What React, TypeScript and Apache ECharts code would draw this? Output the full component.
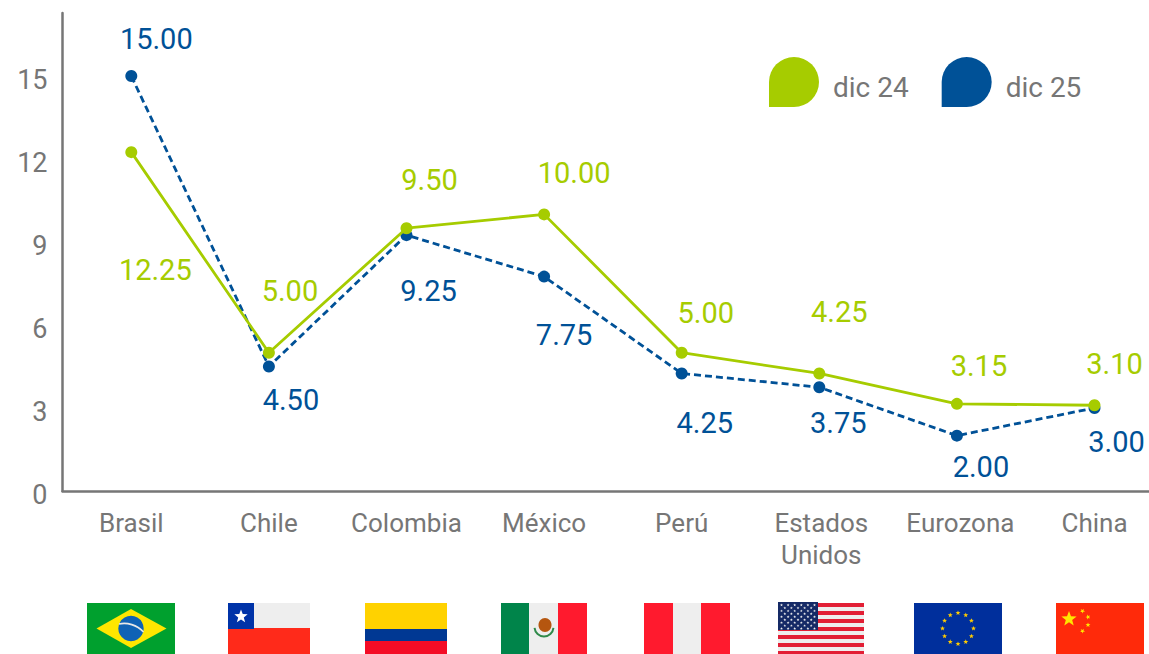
import React, { useEffect, useRef } from "react";
import * as echarts from "echarts";

const categories = ["Brasil", "Chile", "Colombia", "México", "Perú", "Estados\nUnidos", "Eurozona", "China"];
const categoryNudges = [0, 0, 0, 0, 0, 4, 7, 0];
const dic24 = [12.25, 5.0, 9.5, 10.0, 5.0, 4.25, 3.15, 3.1];
const dic25 = [15.0, 4.5, 9.25, 7.75, 4.25, 3.75, 2.0, 3.0];
const offsets24 = [[24, 118], [21, -62], [23, -48], [30, -41], [24, -40], [20, -61], [22, -38], [20, -41]];
const offsets25 = [[25, -37], [22, 33], [22, 56], [20, 58], [23, 50], [19, 36], [24, 31], [22, 34]];

const GREEN = "#a6cc00";
const BLUE = "#005197";
const GREY = "#767676";
const FONT = "Roboto";
const DROP = "path://M0,25 A25,25 0 1 1 25,50 L0,50 Z";

const rect = (x: number, y: number, width: number, height: number, fill: string) => ({
  type: "rect", shape: { x, y, width, height }, style: { fill }, silent: true,
});
const star = (cx: number, cy: number, r: number, fill: string, rot = 0) => {
  const points: number[][] = [];
  for (let i = 0; i < 10; i++) {
    const a = -Math.PI / 2 + rot + (i * Math.PI) / 5;
    const rr = i % 2 === 0 ? r : r * 0.42;
    points.push([cx + rr * Math.cos(a), cy + rr * Math.sin(a)]);
  }
  return { type: "polygon", shape: { points }, style: { fill }, silent: true };
};

function flags() {
  const top = 603, h = 51, out: any[] = [];
  // Brasil
  out.push(rect(87, top, 88, h, "#00a02e"));
  out.push({ type: "polygon", shape: { points: [[96.5, 628.5], [131, 609], [166.5, 628.5], [131, 648]] }, style: { fill: "#ffe600" }, silent: true });
  out.push({ type: "circle", shape: { cx: 131, cy: 628.5, r: 12.7 }, style: { fill: "#0f62b5" }, silent: true });
  out.push({ type: "bezierCurve", shape: { x1: 119, y1: 624, cpx1: 127, cpy1: 622, x2: 143.5, y2: 632, cpx2: 137, cpy2: 625 }, style: { stroke: "#e8e8e8", fill: "none", lineWidth: 1.6 }, silent: true });
  // Chile
  out.push(rect(228, top, 82, 25, "#eeeeee"));
  out.push(rect(228, 628, 82, 26, "#ff2a1a"));
  out.push(rect(228, top, 26, 26, "#0033a8"));
  out.push(star(241, 616.5, 7, "#ffffff"));
  // Colombia
  out.push(rect(365, top, 82, 26, "#ffd200"));
  out.push(rect(365, 629, 82, 12, "#003893"));
  out.push(rect(365, 641, 82, 13, "#f40c26"));
  // México
  out.push(rect(501, top, 28, h, "#00844a"));
  out.push(rect(529, top, 29, h, "#eeeeee"));
  out.push(rect(558, top, 29, h, "#ff1a2e"));
  out.push({ type: "arc", shape: { cx: 544, cy: 627, r: 9.5, startAngle: 0.1, endAngle: Math.PI - 0.1 }, style: { stroke: "#2f8a4a", fill: "none", lineWidth: 2 }, silent: true });
  out.push({ type: "ellipse", shape: { cx: 545, cy: 625, rx: 6.5, ry: 7 }, style: { fill: "#b5560f" }, silent: true });
  // Perú
  out.push(rect(644, top, 29, h, "#ff1a2e"));
  out.push(rect(673, top, 28, h, "#eeeeee"));
  out.push(rect(701, top, 29, h, "#ff1a2e"));
  // Estados Unidos
  out.push(rect(778, top, 86, h, "#eeeeee"));
  for (let y = top; y < top + h; y += 8) out.push(rect(778, y, 86, Math.min(4, top + h - y), "#e21f35"));
  out.push(rect(778, 602, 40, 28, "#152a66"));
  for (let r = 0; r < 9; r++) {
    const odd = r % 2 === 1;
    for (let c = 0; c < (odd ? 5 : 6); c++) {
      out.push(star(781.5 + (odd ? 3.3 : 0) + c * 6.6, 605 + r * 2.95, 1.5, "#f2f2f2"));
    }
  }
  // Eurozona
  out.push(rect(914, top, 88, h, "#002f9c"));
  for (let i = 0; i < 12; i++) {
    const a = (i * Math.PI) / 6;
    out.push(star(958 + 15.5 * Math.sin(a), 628.5 - 15.5 * Math.cos(a), 2.6, "#ffcc00"));
  }
  // China
  out.push(rect(1056, top, 88, h, "#ff2a0a"));
  out.push(star(1069, 619, 8, "#ffe600"));
  out.push(star(1082.5, 611, 2.6, "#ffe600", 0.5));
  out.push(star(1088, 617, 2.6, "#ffe600", 0.9));
  out.push(star(1088, 625, 2.6, "#ffe600", 0));
  out.push(star(1082.5, 631, 2.6, "#ffe600", 0.5));
  return out;
}

const points = (values: number[], offs: number[][], color: string) =>
  values.map((value, i) => ({
    value,
    label: { show: true, position: "inside" as const, offset: offs[i], color, fontFamily: FONT, fontSize: 29, formatter: value.toFixed(2) },
  }));

export default function App() {
  const ref = useRef<HTMLDivElement>(null);
  useEffect(() => {
    document.body.style.margin = "0";
    const chart = echarts.init(ref.current!, undefined, { renderer: "svg" });
    chart.setOption({
      animation: false,
      backgroundColor: "#ffffff",
      grid: { left: 62.5, top: 13, width: 1100.8, height: 478, containLabel: false },
      legend: {
        left: 764, top: 52, itemWidth: 50, itemHeight: 50, itemGap: 33,
        selectedMode: false,
        data: [
          { name: "dic 24", icon: DROP, itemStyle: { color: GREEN } },
          { name: "dic 25", icon: DROP, itemStyle: { color: BLUE } },
        ],
        formatter: "{t|{name}}",
        textStyle: {
          color: GREY, fontFamily: FONT, fontSize: 28,
          rich: { t: { color: GREY, fontFamily: FONT, fontSize: 28, padding: [11, 0, 0, 9] } },
        },
      },
      xAxis: {
        type: "category",
        data: categories.map((value, i) => ({
          value,
          textStyle: { padding: [0, 0, 0, categoryNudges[i]] },
        })),
        boundaryGap: true,
        axisLine: { lineStyle: { color: GREY, width: 2.5 } },
        axisTick: { show: false },
        axisLabel: { color: GREY, fontFamily: FONT, fontSize: 26, lineHeight: 32, margin: 16, interval: 0 },
      },
      yAxis: {
        type: "value",
        min: 0,
        max: 17.28,
        interval: 3,
        axisLine: { show: true, lineStyle: { color: GREY, width: 2.5 } },
        axisTick: { show: false },
        splitLine: { show: false },
        axisLabel: {
          color: GREY, fontFamily: FONT, fontSize: 27, margin: 15, showMaxLabel: false,
          formatter: "{t|{value}}",
          rich: { t: { color: GREY, fontFamily: FONT, fontSize: 27, padding: [7, 0, 0, 0] } },
        },
      },
      series: [
        {
          name: "dic 25", type: "line", z: 2, data: points(dic25, offsets25, BLUE),
          symbol: "circle", symbolSize: 12, itemStyle: { color: BLUE },
          lineStyle: { color: BLUE, width: 2.8, type: [7, 4] },
        },
        {
          name: "dic 24", type: "line", z: 3, data: points(dic24, offsets24, GREEN),
          symbol: "circle", symbolSize: 12, itemStyle: { color: GREEN },
          lineStyle: { color: GREEN, width: 2.8 },
        },
      ],
      graphic: { elements: flags() },
    });
    return () => chart.dispose();
  }, []);
  return (
    <div style={{ width: 1149, height: 654, position: "absolute", left: 0, top: 0, overflow: "hidden" }}>
      <div ref={ref} style={{ width: 1170, height: 654 }} />
    </div>
  );
}
